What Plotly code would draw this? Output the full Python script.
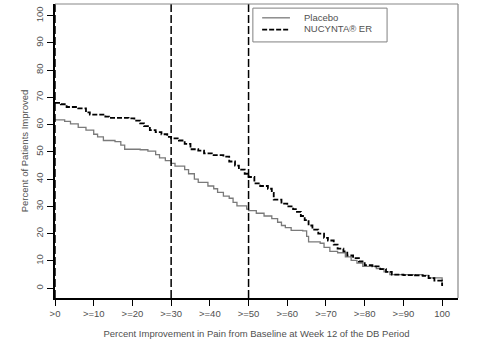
import plotly.graph_objects as go

# ---- data ----
nucynta_x = [0, 1.5, 3, 6, 8, 9, 13, 14, 19, 20.5, 22, 23, 24.5, 26, 27.5, 29, 30, 32, 33.5, 35,
             37, 38.5, 40.5, 43.5, 45, 46.5, 47.5, 49, 50, 51.5, 53, 55, 56, 56.5, 58.5, 60, 61.5,
             62.5, 63.5, 64.5, 65.5, 66.5, 68, 69.5, 70.5, 72, 73, 74.5, 75.5, 77, 78.5, 80, 82,
             84, 85.5, 87, 90, 93, 95, 96.5, 98, 100, 100]
nucynta_y = [68, 67.5, 66.5, 66, 64.5, 63.7, 63, 62.5, 62.3, 61.5, 60.5, 59.5, 58, 57.3, 56.5, 55.5,
             55, 54.2, 53, 51, 50.5, 49.5, 48.8, 48.3, 46.5, 45, 43.5, 42, 40.8, 38.5, 37.5, 36.5,
             35, 32.5, 31, 30, 29, 28, 26.5, 25, 23, 21.5, 20, 18.5, 17.5, 16, 14.5, 13.5, 12, 11,
             9.8, 8.5, 8, 7, 6, 5, 4.8, 4.7, 4.5, 3.7, 2.8, 2.8, 0.8]

placebo_x = [0, 2.5, 4, 6, 8, 10, 11, 12.5, 15.5, 17, 18, 22, 24, 26, 27, 28.5, 30, 31, 33.5, 34.5,
             36, 37, 39.5, 41, 42, 43.5, 45, 46, 47, 49.5, 50, 52, 54, 56, 57.5, 58.5, 59.5, 61,
             64, 65, 65.5, 68.5, 69.5, 71, 73, 75, 76.5, 78, 79.5, 83, 85, 86.5, 95, 96.5, 100, 100]
placebo_y = [61.8, 61.2, 60.3, 59, 58, 56.5, 55.5, 54.2, 53.8, 52.5, 51, 50.8, 50.3, 49, 47.8, 46.8,
             45.8, 44.8, 43.5, 42, 40, 38.8, 37.5, 36.5, 35.2, 33.8, 33, 31.5, 30.2, 29, 28.5, 27.5,
             26.5, 25.5, 24.2, 23, 22.2, 21.2, 21, 19, 17, 16.5, 15, 13.5, 13, 11.5, 10.2, 9.2, 8,
             7.2, 6, 5, 4.7, 3.8, 3.3, 1.2]

x_tickvals = [0, 10, 20, 30, 40, 50, 60, 70, 80, 90, 100]
x_ticktext = [">0", ">=10", ">=20", ">=30", ">=40", ">=50", ">=60", ">=70", ">=80", ">=90", "100"]
y_tickvals = [0, 10, 20, 30, 40, 50, 60, 70, 80, 90, 100]
ref_lines = [0, 30, 50]
series_names = ["Placebo", "NUCYNTA\u00ae ER"]

FONT = "Liberation Sans, Arial, sans-serif"
TXT = "#505050"

fig = go.Figure()
fig.add_trace(go.Scatter(x=placebo_x, y=placebo_y, mode="lines", line_shape="hv",
                         line=dict(color="#7a7a7a", width=1.3), name=series_names[0],
                         showlegend=False))
fig.add_trace(go.Scatter(x=nucynta_x, y=nucynta_y, mode="lines", line_shape="hv",
                         line=dict(color="black", width=1.8, dash="5px,2px"),
                         name=series_names[1], showlegend=False))

shapes = []
for xv in ref_lines:
    shapes.append(dict(type="line", xref="x", yref="paper", x0=xv, x1=xv, y0=0, y1=1,
                       line=dict(color="black", width=1.5, dash="8px,3px")))
# top / right frame
shapes.append(dict(type="line", xref="paper", yref="paper", x0=0, x1=1, y0=1, y1=1,
                   line=dict(color="#888888", width=1.2)))
shapes.append(dict(type="line", xref="paper", yref="paper", x0=1, x1=1, y0=0, y1=1,
                   line=dict(color="#888888", width=1.2)))
# legend box & samples
shapes.append(dict(type="rect", xref="paper", yref="paper", x0=0.491, x1=0.824, y0=0.871, y1=0.986,
                   line=dict(color="#808080", width=1), fillcolor="white"))
shapes.append(dict(type="line", xref="paper", yref="paper", x0=0.514, x1=0.583, y0=0.953, y1=0.953,
                   line=dict(color="#7a7a7a", width=1.3)))
shapes.append(dict(type="line", xref="paper", yref="paper", x0=0.514, x1=0.583, y0=0.913, y1=0.913,
                   line=dict(color="black", width=1.8, dash="5px,2px")))

annotations = [
    dict(xref="paper", yref="paper", x=0.613, y=0.955, text=series_names[0], showarrow=False,
         xanchor="left", yanchor="middle", font=dict(family=FONT, size=9.5, color=TXT)),
    dict(xref="paper", yref="paper", x=0.613, y=0.915, text=series_names[1], showarrow=False,
         xanchor="left", yanchor="middle", font=dict(family=FONT, size=9.5, color=TXT)),
]

fig.update_layout(
    width=495, height=351,
    margin=dict(l=55, r=37, t=4, b=53),
    paper_bgcolor="white", plot_bgcolor="white",
    font=dict(family=FONT, size=9.5, color=TXT),
    shapes=shapes, annotations=annotations,
    xaxis=dict(range=[0, 104.1], tickvals=x_tickvals, ticktext=x_ticktext,
               showgrid=False, zeroline=False, showline=True, linecolor="black", linewidth=1.5,
               ticks="outside", ticklen=6, tickcolor="black", tickwidth=1,
               tickfont=dict(family=FONT, size=9.5, color=TXT),
               title=dict(text="Percent Improvement in Pain from Baseline at Week 12 of the DB Period",
                          font=dict(family=FONT, size=9.5, color=TXT), standoff=12)),
    yaxis=dict(range=[-3.6, 104.3], tickvals=y_tickvals, tickangle=-90,
               showgrid=False, zeroline=False, showline=True, linecolor="black", linewidth=1.5,
               ticks="outside", ticklen=6, tickcolor="black", tickwidth=1,
               tickfont=dict(family=FONT, size=9.5, color=TXT),
               title=dict(text="Percent of Patients Improved",
                          font=dict(family=FONT, size=9.5, color=TXT), standoff=4)),
)

fig.write_html("out.html")
